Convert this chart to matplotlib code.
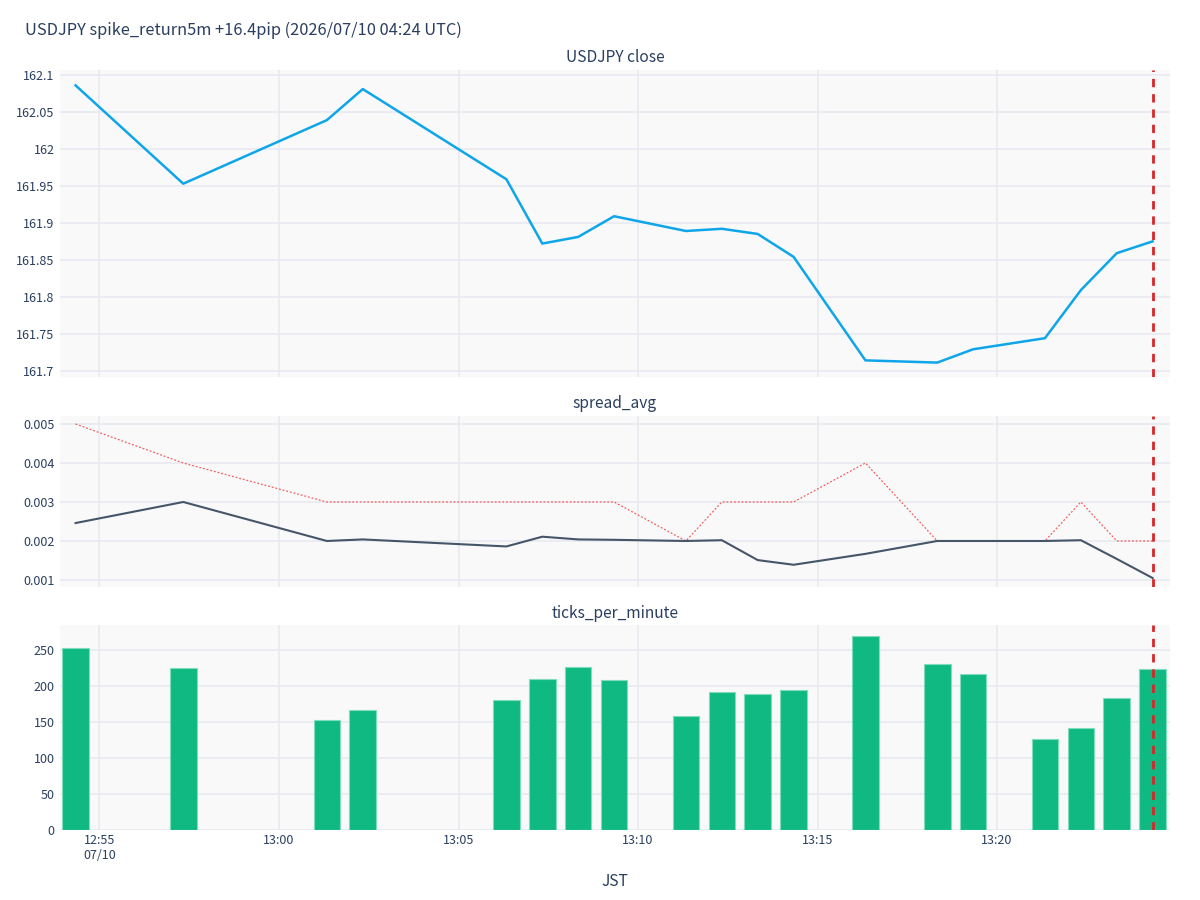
import matplotlib
matplotlib.use("Agg")
import matplotlib.pyplot as plt
from datetime import datetime, timedelta

plt.rcParams['font.family'] = ['Noto Sans CJK JP', 'DejaVu Sans']

# minutes before the spike (0 = 30 min before, 30 = spike minute)
minute_idx = [0, 3, 7, 8, 12, 13, 14, 15, 17, 18, 19, 20, 22, 24, 25, 27, 28, 29, 30]
close = [162.086, 161.953, 162.039, 162.081, 161.959, 161.872, 161.881, 161.909,
         161.889, 161.892, 161.885, 161.854, 161.714, 161.711, 161.729, 161.744,
         161.809, 161.859, 161.875]
spread_avg = [0.00246, 0.0030, 0.0020, 0.00204, 0.00186, 0.00211, 0.00204, 0.00203,
              0.0020, 0.00202, 0.00151, 0.00139, 0.00167, 0.0020, 0.0020, 0.0020,
              0.00202, 0.00154, 0.00105]
spread_max = [0.005, 0.004, 0.003, 0.003, 0.003, 0.003, 0.003, 0.003,
              0.002, 0.003, 0.003, 0.003, 0.004, 0.002, 0.002, 0.002,
              0.003, 0.002, 0.002]
ticks_per_minute = [253, 225, 153, 166, 180, 210, 227, 209, 158, 191, 189, 194,
                    270, 231, 216, 126, 142, 183, 223]

spike_time = datetime(2026, 7, 10, 13, 24, 20)
start_time = spike_time - timedelta(minutes=30)
times = [start_time + timedelta(minutes=m) for m in minute_idx]

title = "USDJPY spike_return5m +16.4pip (2026/07/10 04:24 UTC)"
text_col = '#2a3f5f'
grid_col = '#e6e9f0'
bg_col = '#f9f9fa'

fig = plt.figure(figsize=(12, 9), dpi=100)
W, H = 1200.0, 900.0

def make_ax(top, bottom):
    return fig.add_axes([60 / W, 1 - bottom / H, 1110 / W, (bottom - top) / H])

ax1 = make_ax(70, 377)
ax2 = make_ax(416, 587)
ax3 = make_ax(625, 830)

ax1.plot(times, close, color='#0ea5e9', lw=1.8)
ax2.plot(times, spread_max, color='#ef4444', lw=0.9, ls=(0, (1.5, 1.5)), alpha=0.85)
ax2.plot(times, spread_avg, color='#475569', lw=1.5)
ax3.bar(times, ticks_per_minute, width=0.74 / 1440, color='#10b981',
        edgecolor='#7fdcbc', linewidth=0.8)

xmin = datetime(2026, 7, 10, 12, 53, 54)
xmax = datetime(2026, 7, 10, 13, 24, 49)
xt = [datetime(2026, 7, 10, 12, 55) + timedelta(minutes=5 * i) for i in range(6)]

ax1.set_ylim(161.6915, 162.1068)
ax1.set_yticks([161.7 + 0.05 * i for i in range(9)])
ax1.set_yticklabels(['161.7', '161.75', '161.8', '161.85', '161.9', '161.95',
                     '162', '162.05', '162.1'])
ax2.set_ylim(0.00082, 0.005205)
ax2.set_yticks([0.001, 0.002, 0.003, 0.004, 0.005])
ax2.set_yticklabels(['0.001', '0.002', '0.003', '0.004', '0.005'])
ax3.set_ylim(0, 284.7)
ax3.set_yticks([0, 50, 100, 150, 200, 250])

for ax in (ax1, ax2, ax3):
    ax.set_facecolor(bg_col)
    ax.set_xlim(xmin, xmax)
    ax.set_xticks(xt)
    for s in ax.spines.values():
        s.set_visible(False)
    ax.grid(True, color=grid_col, lw=1.1)
    ax.set_axisbelow(True)
    ax.tick_params(length=0, labelsize=9, colors=text_col, pad=4)
    ax.axvline(spike_time, color='#d62728', lw=2, ls=(0, (3, 2.5)), zorder=5)

ax1.set_xticklabels([])
ax2.set_xticklabels([])
ax3.set_xticklabels(['12:55\n07/10', '13:00', '13:05', '13:10', '13:15', '13:20'])
ax3.tick_params(axis='x', pad=3)

fig.text(25 / W, 1 - 30 / H, title, fontsize=11.8, color=text_col, va='center', ha='left')
cx = 615 / W
fig.text(cx, 1 - 57 / H, 'USDJPY close', fontsize=11.2, color=text_col, ha='center', va='center')
fig.text(cx, 1 - 403 / H, 'spread_avg', fontsize=11.2, color=text_col, ha='center', va='center')
fig.text(cx, 1 - 613 / H, 'ticks_per_minute', fontsize=11.2, color=text_col, ha='center', va='center')
fig.text(cx, 1 - 882 / H, 'JST', fontsize=11.2, color=text_col, ha='center', va='center')

fig.savefig('out.png', dpi=100, facecolor='white')
